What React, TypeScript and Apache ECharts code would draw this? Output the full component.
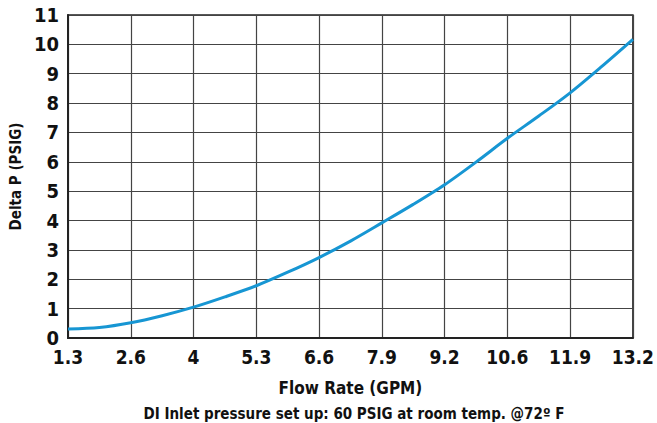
import React, { useEffect, useRef } from "react";
import * as echarts from "echarts";

// Flow in litres per minute (the axis ticks are labelled in GPM)
const flowLpm = [5, 7.5, 10, 12.5, 15, 17.5, 20, 22.5, 25, 27.5, 30, 32.5, 35, 37.5, 40, 42.5, 45, 47.5, 50];
const deltaP = [0.31, 0.36, 0.52, 0.76, 1.05, 1.4, 1.78, 2.24, 2.74, 3.3, 3.92, 4.55, 5.22, 5.99, 6.8, 7.56, 8.35, 9.24, 10.17];
const xTickLabels = ["1.3", "2.6", "4", "5.3", "6.6", "7.9", "9.2", "10.6", "11.9", "13.2"];
const yTickLabels = ["0", "1", "2", "3", "4", "5", "6", "7", "8", "9", "10", "11"];

const FONT = "'Liberation Sans Narrow', 'DejaVu Sans Condensed', Arial, sans-serif";

export default function App() {
  const ref = useRef<HTMLDivElement>(null);
  useEffect(() => {
    if (!ref.current) return;
    const chart = echarts.init(ref.current, null, { renderer: "svg" });
    chart.setOption({
      animation: false,
      backgroundColor: "#fff",
      grid: {
        left: 68,
        right: 18,
        top: 15,
        bottom: 85,
        show: true,
        borderColor: "#222",
        borderWidth: 1.5,
        backgroundColor: "transparent",
      },
      xAxis: {
        type: "value",
        min: 5,
        max: 50,
        interval: 5,
        name: "Flow Rate (GPM)",
        nameLocation: "middle",
        nameGap: 41,
        nameTextStyle: { fontFamily: FONT, fontWeight: "bold", fontSize: 17, color: "#111" },
        axisLine: { show: true, lineStyle: { color: "#222", width: 2 } },
        axisTick: { show: false },
        axisLabel: {
          margin: 9,
          fontFamily: FONT,
          fontWeight: "bold",
          fontSize: 19,
          color: "#111",
          formatter: (v: number) => xTickLabels[Math.round((v - 5) / 5)] ?? "",
        },
        splitLine: { show: true, lineStyle: { color: "#444", width: 1.2 } },
      },
      yAxis: {
        type: "value",
        min: 0,
        max: 11,
        interval: 1,
        name: "Delta P (PSIG)",
        nameLocation: "middle",
        nameGap: 40,
        nameRotate: 90,
        nameTextStyle: { fontFamily: FONT, fontWeight: "bold", fontSize: 15, color: "#111" },
        axisLine: { show: true, lineStyle: { color: "#222", width: 2 } },
        axisTick: { show: false },
        axisLabel: {
          margin: 9,
          fontFamily: FONT,
          fontWeight: "bold",
          fontSize: 20,
          color: "#111",
          formatter: (v: number) => yTickLabels[Math.round(v)] ?? "",
        },
        splitLine: { show: true, lineStyle: { color: "#444", width: 1.2 } },
      },
      graphic: [
        {
          type: "text",
          x: 354,
          y: 406,
          style: {
            text: "DI Inlet pressure set up: 60 PSIG at room temp. @72º F",
            fontFamily: FONT,
            fontWeight: "bold",
            fontSize: 15,
            fill: "#111",
            align: "center",
          },
        },
      ],
      series: [
        {
          type: "line",
          data: flowLpm.map((x, i) => [x, deltaP[i]]),
          smooth: 0.3,
          showSymbol: false,
          lineStyle: { color: "#1796d3", width: 3 },
        },
      ],
    });
    return () => chart.dispose();
  }, []);
  return <div ref={ref} style={{ width: 657, height: 423, position: "absolute", left: 0, top: 0 }} />;
}
